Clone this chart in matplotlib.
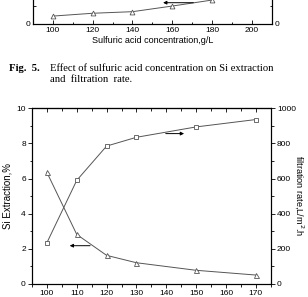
import matplotlib
matplotlib.use("Agg")
import matplotlib.pyplot as plt
from matplotlib.ticker import MultipleLocator

# bottom of the previous figure (cut off at the top of the page)
prev_conc = [100, 120, 140, 160, 180]
prev_si = [0.45, 0.61, 0.70, 1.02, 1.36]
prev_xticks = [100, 120, 140, 160, 180, 200]

# Fig. 5 data
conc = [100, 110, 120, 130, 150, 170]
si_extraction = [6.35, 2.82, 1.63, 1.21, 0.78, 0.51]
filtration_rate = [235, 590, 785, 835, 894, 936]
xticks = [100, 110, 120, 130, 140, 150, 160, 170]

LINE = "#555555"
plt.rcParams["font.family"] = ["Liberation Sans", "DejaVu Sans"]
plt.rcParams["font.size"] = 6

W, H = 308, 297
fig = plt.figure(figsize=(W / 100, H / 100), dpi=100)


def frac(left, top, right, bottom):
    return [left / W, 1 - bottom / H, (right - left) / W, (bottom - top) / H]


# ---- cut-off chart at the top ----
top = fig.add_axes(frac(33, 24 - 176, 271.7, 24))
top.plot(prev_conc, prev_si, color=LINE, lw=0.7, marker="^", ms=3.5,
         mfc="white", mec=LINE, mew=0.6, clip_on=False)
top.annotate("", xy=(154, 1.21), xytext=(172, 1.21),
             arrowprops=dict(arrowstyle="-|>", color="black", lw=0.7,
                             mutation_scale=5))
top.set_xlim(90, 210)
top.set_ylim(0, 10)
top.set_xticks(prev_xticks)
top.xaxis.set_minor_locator(MultipleLocator(10))
top.set_yticks([0])
top.yaxis.set_minor_locator(MultipleLocator(1))
top.tick_params(which="both", direction="in", width=0.6, pad=2)
top.tick_params(which="major", length=3)
top.tick_params(which="minor", length=1.8)
top.spines["top"].set_visible(False)
for s in top.spines.values():
    s.set_linewidth(0.8)
top.set_xlabel("Sulfuric acid concentration,g/L", fontsize=6.5, labelpad=1.5)
top_r = top.twinx()
top_r.set_ylim(0, 1000)
top_r.set_yticks([0])
top_r.yaxis.set_minor_locator(MultipleLocator(100))
top_r.tick_params(which="both", direction="in", width=0.6, length=3, pad=2)
top_r.tick_params(which="minor", length=1.8)
top_r.spines["top"].set_visible(False)
top_r.spines["right"].set_linewidth(0.8)

# ---- caption ----
fig.text(9 / W, 1 - 68 / H, "Fig.  5.", fontsize=7.7, fontweight="bold",
         family="Liberation Serif", va="center")
fig.text(50 / W, 1 - 68 / H,
         "Effect of sulfuric acid concentration on Si extraction",
         fontsize=7.7, family="Liberation Serif", va="center")
fig.text(50 / W, 1 - 79.5 / H, "and  filtration  rate.",
         fontsize=7.7, family="Liberation Serif", va="center")

# ---- Fig. 5 ----
ax = fig.add_axes(frac(32, 108.3, 270.7, 284))
ax.plot(conc, si_extraction, color=LINE, lw=0.7, marker="^", ms=3.6,
        mfc="white", mec=LINE, mew=0.6, zorder=3)
ax.set_xlim(95, 175)
ax.set_ylim(0, 10)
ax.set_xticks(xticks)
ax.xaxis.set_minor_locator(MultipleLocator(5))
ax.yaxis.set_major_locator(MultipleLocator(2))
ax.yaxis.set_minor_locator(MultipleLocator(1))
ax.tick_params(which="both", direction="out", width=0.6, pad=1.5)
ax.tick_params(which="major", length=3)
ax.tick_params(which="minor", length=1.8)
for s in ax.spines.values():
    s.set_linewidth(0.8)
ax.set_ylabel("Si Extraction,%", fontsize=7, labelpad=3)

sec = ax.secondary_xaxis("top")
sec.set_xticks(xticks)
sec.xaxis.set_minor_locator(MultipleLocator(5))
sec.tick_params(which="both", direction="in", width=0.6, labeltop=False)
sec.tick_params(which="major", length=3)
sec.tick_params(which="minor", length=1.8)
sec.spines["top"].set_linewidth(0.8)

ax2 = ax.twinx()
ax2.plot(conc, filtration_rate, color=LINE, lw=0.7, marker="s", ms=3,
         mfc="white", mec=LINE, mew=0.6, zorder=3)
ax2.set_ylim(0, 1000)
ax2.yaxis.set_major_locator(MultipleLocator(200))
ax2.yaxis.set_minor_locator(MultipleLocator(100))
ax2.tick_params(which="both", direction="out", width=0.6, pad=1.5)
ax2.tick_params(which="major", length=3)
ax2.tick_params(which="minor", length=1.8)
ax2.set_ylabel("filtration rate,L/m$^2$.h", fontsize=6.6, rotation=270,
               labelpad=7)

ax.annotate("", xy=(106.7, 2.18), xytext=(115.4, 2.18),
            arrowprops=dict(arrowstyle="-|>", color="black", lw=0.7,
                            mutation_scale=5))
ax.annotate("", xy=(146.9, 8.56), xytext=(138.9, 8.56),
            arrowprops=dict(arrowstyle="-|>", color="black", lw=0.7,
                            mutation_scale=5))

fig.savefig("out.png", dpi=100)
